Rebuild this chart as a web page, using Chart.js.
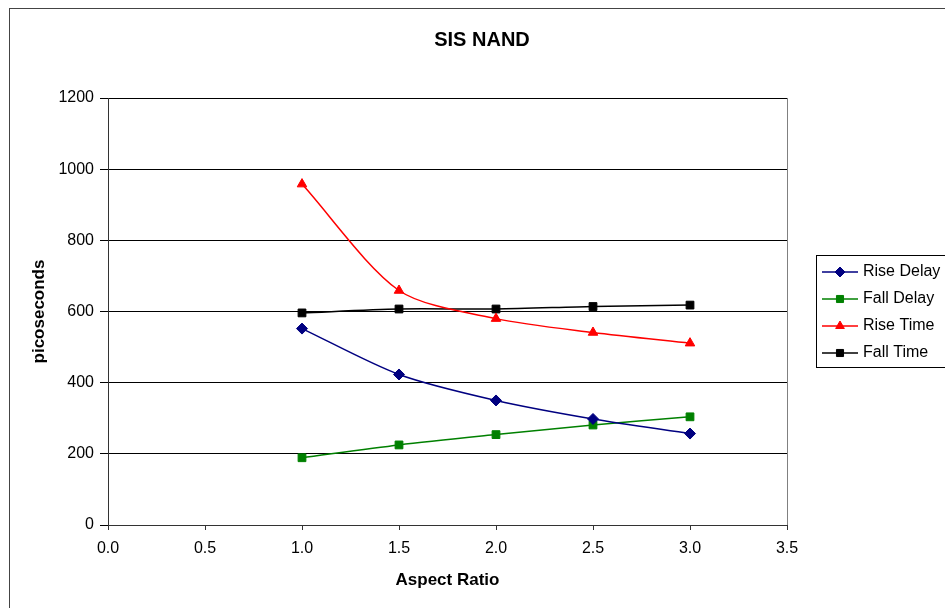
<!DOCTYPE html>
<html>
<head>
<meta charset="utf-8">
<title>SIS NAND</title>
<script src="https://cdn.jsdelivr.net/npm/chart.js@4.4.1/dist/chart.umd.min.js"></script>
<style>
    body { margin: 0; background: #fff; }
    #wrap { width: 945px; height: 608px; position: relative; }
</style>
</head>
<body>
<div id="wrap"><canvas id="nandChart"></canvas></div>
<script>
// Data
const aspectRatio = [1.0, 1.5, 2.0, 2.5, 3.0];
const riseDelay = [552, 423, 350, 298, 257];
const fallDelay = [189, 225, 254, 281, 304];
const riseTime = [958, 659, 580, 541, 511];
const fallTime = [596, 607, 607, 614, 618];

const xTicks = [0, 0.5, 1.0, 1.5, 2.0, 2.5, 3.0, 3.5];
const yTicks = [0, 200, 400, 600, 800, 1000, 1200];

const FONT = "'Liberation Sans', Arial, sans-serif";

function toPoints(values) {
    return values.map((v, i) => ({ x: aspectRatio[i], y: v }));
}

function makeSeries(label, values, color, style) {
    return {
        label: label,
        data: toPoints(values),
        borderColor: color,
        backgroundColor: color,
        borderWidth: 1.5,
        pointStyle: style,
        pointRadius: 5.5,
        pointHoverRadius: 5.5,
        pointBorderWidth: 1,
        tension: 0.28,
        fill: false
    };
}

// Frame, plot border, title and boxed legend
const decorations = {
    id: 'decorations',
    beforeDraw(chart) {
        const ctx = chart.ctx;
        ctx.save();
        ctx.fillStyle = '#fff';
        ctx.fillRect(0, 0, chart.width, chart.height);
        ctx.strokeStyle = '#444';
        ctx.lineWidth = 1;
        ctx.strokeRect(9.5, 8.5, chart.width, chart.height);
        ctx.restore();
    },
    afterDraw(chart) {
        const ctx = chart.ctx;
        const area = chart.chartArea;
        ctx.save();

        // plot area border (right side)
        ctx.strokeStyle = '#808080';
        ctx.lineWidth = 1;
        ctx.beginPath();
        ctx.moveTo(Math.round(area.right) + 0.5, area.top);
        ctx.lineTo(Math.round(area.right) + 0.5, area.bottom);
        ctx.stroke();

        // title
        ctx.fillStyle = '#000';
        ctx.font = 'bold 20px ' + FONT;
        ctx.textAlign = 'center';
        ctx.textBaseline = 'middle';
        ctx.fillText('SIS NAND', 482, 40);

        // legend
        ctx.strokeStyle = '#000';
        ctx.strokeRect(816.5, 255.5, 140, 112);
        ctx.font = '16px ' + FONT;
        ctx.textAlign = 'left';
        chart.data.datasets.forEach((ds, i) => {
            const y = 272 + i * 27;
            ctx.strokeStyle = ds.borderColor;
            ctx.fillStyle = ds.backgroundColor;
            ctx.lineWidth = 1.5;
            ctx.beginPath();
            ctx.moveTo(822, y);
            ctx.lineTo(858, y);
            ctx.stroke();
            ctx.lineWidth = 1;
            Chart.helpers.drawPoint(ctx, { pointStyle: ds.pointStyle, radius: 5, borderWidth: 1, rotation: 0 }, 840, y);
            ctx.fillStyle = '#000';
            ctx.fillText(ds.label, 863, y);
        });
        ctx.restore();
    }
};

const ctx = document.getElementById('nandChart').getContext('2d');
const nandChart = new Chart(ctx, {
    type: 'line',
    data: {
        datasets: [
            makeSeries('Rise Delay', riseDelay, '#000080', 'rectRot'),
            makeSeries('Fall Delay', fallDelay, '#008000', 'rect'),
            makeSeries('Rise Time', riseTime, '#ff0000', 'triangle'),
            makeSeries('Fall Time', fallTime, '#000000', 'rect')
        ]
    },
    options: {
        responsive: true,
        maintainAspectRatio: false,
        animation: false,
        layout: { padding: { left: 0, right: 158, top: 98, bottom: 0 } },
        plugins: {
            legend: { display: false },
            title: { display: false },
            tooltip: { enabled: false }
        },
        scales: {
            x: {
                type: 'linear',
                min: 0,
                max: 3.5,
                afterFit(scale) { scale.height = 83; },
                afterBuildTicks(scale) { scale.ticks = xTicks.map(v => ({ value: v })); },
                ticks: {
                    color: '#000',
                    font: { family: FONT, size: 16 },
                    padding: 9,
                    maxRotation: 0,
                    callback: v => Number(v).toFixed(1)
                },
                grid: {
                    drawOnChartArea: false,
                    drawTicks: true,
                    tickLength: 5,
                    color: '#333'
                },
                border: { display: true, color: '#333' },
                title: {
                    display: true,
                    text: 'Aspect Ratio',
                    color: '#000',
                    font: { family: FONT, size: 17, weight: 'bold' },
                    padding: { top: 0, bottom: 17 }
                }
            },
            y: {
                min: 0,
                max: 1200,
                afterFit(scale) { scale.width = 108; },
                afterBuildTicks(scale) { scale.ticks = yTicks.map(v => ({ value: v })); },
                ticks: {
                    color: '#000',
                    font: { family: FONT, size: 16 },
                    padding: 6,
                    callback: v => String(v)
                },
                grid: {
                    color: '#000',
                    drawTicks: true,
                    tickLength: 8
                },
                border: { display: true, color: '#333' },
                title: {
                    display: true,
                    text: 'picoseconds',
                    color: '#000',
                    font: { family: FONT, size: 17, weight: 'bold' },
                    padding: { top: 29, bottom: 0 }
                }
            }
        }
    },
    plugins: [decorations]
});
</script>
</body>
</html>
